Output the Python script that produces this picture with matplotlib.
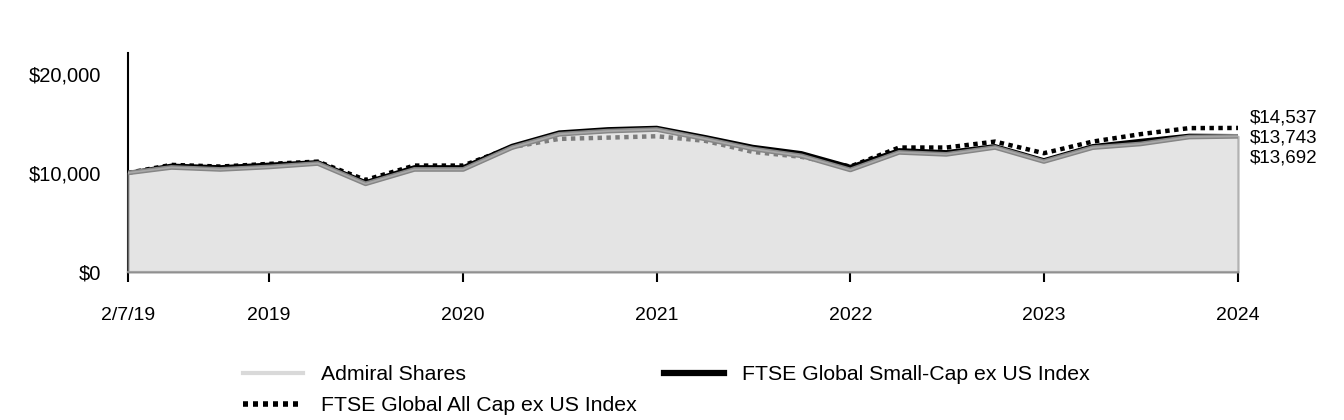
#!/usr/bin/env python

import numpy as np
import pandas as pd
import matplotlib
matplotlib.use("Agg")
import matplotlib.pyplot as plt

plt.rcParams['font.family'] = ['Liberation Sans', 'DejaVu Sans']


# Quarterly values of a hypothetical $10,000 investment
dates = pd.to_datetime([
  "2019-02-07", "2019-04-30", "2019-07-31", "2019-10-31",
  "2020-01-31", "2020-04-30", "2020-07-31", "2020-10-31",
  "2021-01-31", "2021-04-30", "2021-07-31", "2021-10-31",
  "2022-01-31", "2022-04-30", "2022-07-31", "2022-10-31",
  "2023-01-31", "2023-04-30", "2023-07-31", "2023-10-31",
  "2024-01-31", "2024-04-30", "2024-07-31", "2024-10-31",
])

admiral = [10000, 10550, 10350, 10600, 10950, 8900, 10350, 10350,
           12550, 13900, 14220, 14380, 13420, 12420, 11720, 10300,
           12070, 11870, 12570, 11150, 12550, 12920, 13620, 13692]

small_cap = [10000, 10760, 10600, 10860, 11110, 9090, 10600, 10600,
             12760, 14110, 14440, 14580, 13640, 12660, 12020, 10640,
             12320, 12120, 12730, 11310, 12730, 13260, 13780, 13743]

all_cap = [10000, 10810, 10640, 10910, 11140, 9290, 10740, 10740,
           12600, 13430, 13560, 13700, 13230, 12120, 11620, 10640,
           12560, 12560, 13160, 11990, 13160, 13910, 14520, 14537]

tick_dates = pd.to_datetime(["2019-02-07", "2019-10-31", "2020-10-31", "2021-10-31",
                             "2022-10-31", "2023-10-31", "2024-10-31"])
tick_labels = ["2/7/19", "2019", "2020", "2021", "2022", "2023", "2024"]

end_labels = ["$14,537", "$13,743", "$13,692"]
end_label_y = [15560, 13540, 11520]   # stacked label positions


fig = plt.figure(figsize=(13.44, 4.2), dpi=100)
ax = fig.add_axes([128/1344, 1 - 272/420, (1238-128)/1344, (272-53)/420])

# index lines sit under the (translucent) fund area
ax.plot(dates, small_cap, color="black", lw=2.6, zorder=2, solid_capstyle="butt")
ax.plot(dates, all_cap, color="black", lw=3.2, ls=(0, (1.0, 1.0)), zorder=2)

ax.fill_between(dates, 0, admiral, facecolor="#d2d2d2", alpha=0.6,
                edgecolor="#888888", lw=1.6, zorder=3, clip_on=False)
ax.plot(dates, admiral, color="#868686", lw=3.4, zorder=4, solid_capstyle="butt")
ax.plot(dates, admiral, color="#a8a8a8", lw=1.3, zorder=5)

# legend proxies
ax.plot([], [], color="#d9d9d9", lw=3, label="Admiral Shares")
ax.plot([], [], color="black", lw=4, ls=(0, (0.9, 0.9)), label="FTSE Global All Cap ex US Index")
ax.plot([], [], color="black", lw=4.5, label="FTSE Global Small-Cap ex US Index")

ax.set_xlim(dates[0], dates[-1])
ax.set_ylim(0, 22100)
ax.set_yticks([0, 10000, 20000])
ax.set_yticklabels(["$0", "$10,000", "$20,000"], fontsize=14.5)
ax.tick_params(axis="y", length=0, pad=19)

ax.set_xticks(tick_dates)
ax.set_xticklabels(tick_labels, fontsize=14)
ax.tick_params(axis="x", length=7, width=1.5, color="black", pad=18)

for s in ["top", "right"]:
  ax.spines[s].set_visible(False)
ax.spines["left"].set_linewidth(1.5)
ax.spines["bottom"].set_color("#888888")
ax.spines["bottom"].set_linewidth(1.6)

for txt, yv in zip(end_labels, end_label_y):
  ax.text(1.011, yv, txt, transform=ax.get_yaxis_transform(), fontsize=13.5,
          va="center", ha="left")

h, l = ax.get_legend_handles_labels()
fig.legend(h, l, ncol=2, loc="upper left", bbox_to_anchor=(224/1344, 1 - 346/420),
           frameon=False, fontsize=15.3, handlelength=2.82, handletextpad=0.85,
           columnspacing=1.27, labelspacing=0.58)

fig.savefig("out.png", dpi=100)
